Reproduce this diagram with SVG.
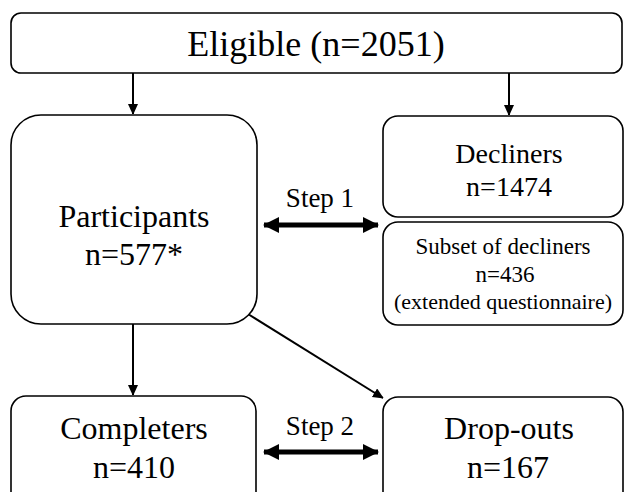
<svg xmlns="http://www.w3.org/2000/svg" width="624" height="492" viewBox="0 0 624 492">
<style>
.box{fill:#fff;stroke:#000;stroke-width:1.6}
.t{font-family:"Liberation Serif","Times New Roman",serif;fill:#000;text-anchor:middle}
.ln{stroke:#000;stroke-width:2;fill:none}
.thick{stroke:#000;stroke-width:5;fill:none}
</style>
<defs>
<marker id="ah" markerWidth="10" markerHeight="12" refX="10" refY="5" orient="auto" markerUnits="userSpaceOnUse">
<path d="M0,0 L11,5 L0,10 Z" fill="#000"/>
</marker>
<marker id="big" markerWidth="16" markerHeight="16" refX="15" refY="8" orient="auto-start-reverse" markerUnits="userSpaceOnUse">
<path d="M0,0 L16,8 L0,16 Z" fill="#000"/>
</marker>
</defs>
<g id="connectors">
<line class="ln" x1="133" y1="73" x2="133" y2="114" marker-end="url(#ah)"/>
<line class="ln" x1="509" y1="73" x2="509" y2="115" marker-end="url(#ah)"/>
<line class="ln" x1="133" y1="324" x2="133" y2="395" marker-end="url(#ah)"/>
<line class="ln" x1="248" y1="314" x2="383" y2="398" marker-end="url(#ah)"/>
<line class="thick" x1="264" y1="225" x2="378" y2="225" marker-start="url(#big)" marker-end="url(#big)"/>
<line class="thick" x1="264" y1="452" x2="378" y2="452" marker-start="url(#big)" marker-end="url(#big)"/>
<text class="t" x="320" y="207" font-size="27">Step 1</text>
<text class="t" x="320" y="435" font-size="27">Step 2</text>
</g>
<g id="eligible">
<rect class="box" x="11" y="13" width="611" height="60" rx="10"/>
<text class="t" x="316" y="56" font-size="36">Eligible (n=2051)</text>
</g>
<g id="participants">
<rect class="box" x="11" y="115" width="246" height="209" rx="30"/>
<text class="t" x="134" y="227" font-size="32">Participants</text>
<text class="t" x="134" y="265" font-size="32">n=577*</text>
</g>
<g id="decliners">
<rect class="box" x="383" y="116" width="240" height="101" rx="15"/>
<text class="t" x="509" y="163" font-size="28">Decliners</text>
<text class="t" x="509" y="196" font-size="28">n=1474</text>
</g>
<g id="subset">
<rect class="box" x="383" y="222" width="240" height="103" rx="15"/>
<text class="t" x="503" y="254" font-size="23">Subset of decliners</text>
<text class="t" x="505" y="282" font-size="23">n=436</text>
<text class="t" x="503" y="309" font-size="22">(extended questionnaire)</text>
</g>
<g id="completers">
<rect class="box" x="11" y="396" width="245" height="112" rx="15"/>
<text class="t" x="134" y="439" font-size="32">Completers</text>
<text class="t" x="134" y="478" font-size="32">n=410</text>
</g>
<g id="dropouts">
<rect class="box" x="383" y="397" width="240" height="112" rx="15"/>
<text class="t" x="509" y="439" font-size="32">Drop-outs</text>
<text class="t" x="508" y="478" font-size="32">n=167</text>
</g>
</svg>
